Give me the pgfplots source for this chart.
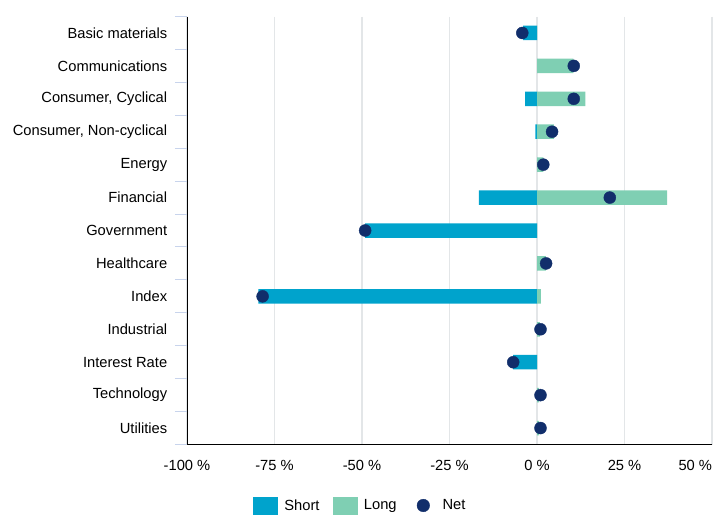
\documentclass[border=0pt]{standalone}
\usepackage{fontspec}
\setmainfont{Liberation Sans}
\usepackage{pgfplots}
\usepackage{pgfplotstable}
\pgfplotsset{compat=1.18}

\definecolor{shortc}{HTML}{00A3CC}
\definecolor{longc}{HTML}{7FCFB3}
\definecolor{netc}{HTML}{112E6B}
\definecolor{gridc}{HTML}{E3E6E8}
\definecolor{tickc}{HTML}{C8D4EC}

% idx: 0 = Basic materials (top) ... 12 = Utilities (bottom)
\pgfplotstableread{
idx short long net
0 -4.0 0 -4.2
1 0 10.4 10.5
2 -3.4 13.8 10.5
3 -0.5 4.8 4.3
4 0 1.8 1.8
5 -16.6 37.2 20.8
6 -49.1 0 -49.1
7 0 2.5 2.6
8 -79.6 1.1 -78.4
9 0 0.8 1.0
10 -6.8 0 -6.8
11 0 0.6 1.0
12 0 0.6 1.0
}\sectors

\begin{document}
\begin{tikzpicture}
\begin{axis}[
    name=ax,
    scale only axis,
    width=525pt, height=428pt,
    xmin=-100, xmax=50,
    ymin=-0.5, ymax=12.5,
    y dir=reverse,
    axis lines*=left,
    axis line style={black, line width=0.9pt},
    xtick={-100,-75,-50,-25,0,25,50},
    xticklabels={-100 \%,-75 \%,-50 \%,-25 \%,0 \%,25 \%,\llap{50 \%}},
    xmajorgrids,
    grid style={gridc, line width=1.4pt},
    major x tick style={draw=none},
    xticklabel style={yshift=-8pt},
    ytick={0,...,12},
    yticklabels={Basic materials,Communications,{Consumer, Cyclical},{Consumer, Non-cyclical},Energy,Financial,Government,Healthcare,Index,Industrial,Interest Rate,Technology,Utilities},
    major y tick style={draw=none},
    minor ytick={-0.5,0.5,...,12.5},
    minor y tick style={tickc, line width=1pt},
    minor tick length=12pt,
    tick align=outside,
    yticklabel style={xshift=-12pt},
    font=\fontsize{14.7}{17}\selectfont,
    legend style={at={(0.33,-0.1425)}, anchor=center, draw=none,
        font=\fontsize{14.7}{17}\selectfont,
        /tikz/every odd column/.append style={column sep=5pt},
        /tikz/every even column/.append style={column sep=11pt}},
    legend columns=3,
]
\addlegendimage{legend image code/.code={\fill[shortc] (0pt,-8.8pt) rectangle (24pt,8.8pt);}}
\addlegendentry{Short}
\addlegendimage{legend image code/.code={\fill[longc] (0pt,-8.8pt) rectangle (24pt,8.8pt);}}
\addlegendentry{Long}
\addlegendimage{legend image code/.code={\path[draw=none,fill=none] (0pt,-8.8pt) rectangle (26pt,8.8pt); \fill[netc] (13.7pt,0pt) circle (6.3pt);}}
\addlegendentry{Net}

\addplot[xbar, bar width=14.5pt, bar shift=0pt, fill=shortc, draw=none, forget plot]
    table[x=short, y=idx] {\sectors};
\addplot[xbar, bar width=14.5pt, bar shift=0pt, fill=longc, draw=none, forget plot]
    table[x=long, y=idx] {\sectors};
\addplot[only marks, mark=*, mark size=6pt, mark options={fill=netc, draw=netc}, forget plot]
    table[x=net, y=idx] {\sectors};
\end{axis}
\pgfresetboundingbox
\path (ax.south west) ++(-187pt,-69.5pt) rectangle ++(727pt,514pt);
\end{tikzpicture}
\end{document}
